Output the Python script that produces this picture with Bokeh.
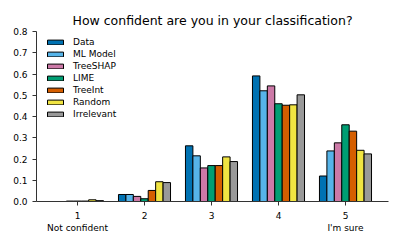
from bokeh.plotting import figure
from bokeh.models import Range1d, FixedTicker, PrintfTickFormatter, Legend, LegendItem, ColumnDataSource
from bokeh.transform import dodge
from bokeh.embed import file_html
from bokeh.resources import INLINE

categories = [1, 2, 3, 4, 5]
x_labels = {1: "1\nNot confident", 2: "2", 3: "3", 4: "4", 5: "5\nI'm sure"}
y_ticks = [0.0, 0.1, 0.2, 0.3, 0.4, 0.5, 0.6, 0.7, 0.8]

series_names = ["Data", "ML Model", "TreeSHAP", "LIME", "TreeInt", "Random", "Irrelevant"]
data_vals = [0.0, 0.033, 0.262, 0.591, 0.120]
ml_model = [0.0, 0.033, 0.215, 0.521, 0.238]
treeshap = [0.002, 0.024, 0.158, 0.544, 0.276]
lime = [0.002, 0.013, 0.169, 0.460, 0.361]
treeint = [0.002, 0.052, 0.169, 0.453, 0.331]
random_vals = [0.008, 0.093, 0.210, 0.455, 0.241]
irrelevant = [0.004, 0.089, 0.188, 0.502, 0.224]
colors = ["#0072B2", "#56B4E9", "#CC79A7", "#009E73", "#D55E00", "#F0E442", "#999999"]

series = [data_vals, ml_model, treeshap, lime, treeint, random_vals, irrelevant]

FONT = "DejaVu Sans"

p = figure(width=399, height=243, output_backend="svg", toolbar_location=None,
           x_range=Range1d(0.388, 5.642), y_range=Range1d(0, 0.8),
           min_border_left=36, min_border_right=11, min_border_top=31, min_border_bottom=42,
           title="How confident are you in your classification?")
p.title.text_font = FONT
p.title.text_font_size = "12.5px"
p.title.text_font_style = "normal"
p.title.text_color = "black"
p.title.align = "center"
p.title.standoff = 8
p.title.offset = 0
p.outline_line_color = None
p.grid.visible = False
p.background_fill_color = "white"

src = ColumnDataSource(dict(x=categories, **{f"s{i}": s for i, s in enumerate(series)}))

w = 0.111
items = []
for i, (name, color) in enumerate(zip(series_names, colors)):
    r = p.vbar(x=dodge("x", (i - 3) * w), top=f"s{i}", bottom=0, width=w, source=src,
               fill_color=color, line_color="black", line_width=1)
    items.append(LegendItem(label=name, renderers=[r]))

legend = Legend(items=items, location=(9, 82))
legend.margin = 0
legend.padding = 0
legend.border_line_alpha = 0
legend.background_fill_alpha = 0
legend.glyph_width = 20
legend.glyph_height = 6
legend.label_height = 11
legend.spacing = 1
legend.label_standoff = 8
legend.label_text_font = FONT
legend.label_text_font_size = "9px"
legend.label_text_color = "black"
p.add_layout(legend)

for ax in (p.xaxis[0], p.yaxis[0]):
    ax.axis_line_color = "#333333"
    ax.major_tick_line_color = "#333333"
    ax.major_tick_in = 0
    ax.major_tick_out = 4
    ax.minor_tick_line_color = None
    ax.major_label_text_font = FONT
    ax.major_label_text_font_size = "9px"
    ax.major_label_text_color = "black"

p.xaxis.ticker = FixedTicker(ticks=categories)
p.xaxis.major_label_overrides = x_labels
p.xaxis.major_label_standoff = 5
p.yaxis.ticker = FixedTicker(ticks=y_ticks)
p.yaxis.formatter = PrintfTickFormatter(format="%.1f")
p.yaxis.major_label_standoff = 5

open("out.html", "w").write(file_html(p, INLINE))
